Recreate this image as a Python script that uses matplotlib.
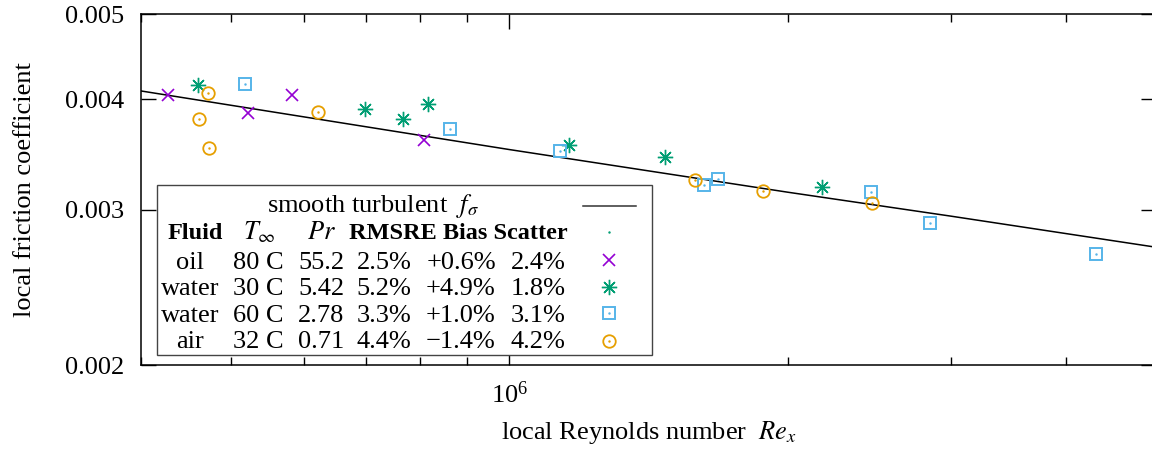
import matplotlib
matplotlib.use('Agg')

import matplotlib.pyplot as plt
from matplotlib.patches import Rectangle
from matplotlib.ticker import LogLocator, NullFormatter, NullLocator, FormatStrFormatter

plt.rcParams['font.family'] = ['Liberation Serif', 'DejaVu Serif']
plt.rcParams['mathtext.fontset'] = 'stix'
plt.rcParams['font.size'] = 19

# datos
oil_re = [4.28e5, 5.22e5, 5.82e5, 8.08e5]
oil_cf = [0.00405, 0.00386, 0.00405, 0.00360]

w30_re = [4.61e5, 6.99e5, 7.67e5, 8.16e5, 1.161e6, 1.473e6, 2.176e6]
w30_cf = [0.00415, 0.00390, 0.00380, 0.00395, 0.00355, 0.00344, 0.00318]

w60_re = [5.18e5, 8.62e5, 1.135e6, 1.623e6, 1.681e6, 2.458e6, 2.846e6, 4.309e6]
w60_cf = [0.00417, 0.00370, 0.00350, 0.00320, 0.00325, 0.00314, 0.00290, 0.00267]

air_re = [4.72e5, 4.62e5, 4.74e5, 6.21e5, 1.586e6, 1.879e6, 2.464e6]
air_cf = [0.00407, 0.00380, 0.00352, 0.00387, 0.00324, 0.00315, 0.00305]

# curva lisa turbulenta
line_re = [4e5, 1e6, 2e6, 3e6, 5e6]
line_cf = [0.00409, 0.00351, 0.00314, 0.00295, 0.00272]

# tabla de la leyenda
fluids = ['oil', 'water', 'water', 'air']
temps = ['80 C', '30 C', '60 C', '32 C']
prandtl = ['55.2', '5.42', '2.78', '0.71']
rmsre = ['2.5%', '5.2%', '3.3%', '4.4%']
bias = ['+0.6%', '+4.9%', '+1.0%', '\u22121.4%']
scatter = ['2.4%', '1.8%', '3.1%', '4.2%']

purple = '#9400d3'
green = '#009e73'
blue = '#56b4e9'
orange = '#e69f00'

fig = plt.figure(figsize=(11.52, 4.49), dpi=100)
ax = fig.add_axes([141 / 1152, 84 / 449, 1015 / 1152, 351 / 449])

ax.plot(line_re, line_cf, color='black', lw=1.1)
ax.plot(oil_re, oil_cf, 'x', color=purple, ms=9, mew=1.2, ls='none')
ax.plot(w30_re, w30_cf, marker=(8, 2, 0), color=green, ms=11, mew=1.0, ls='none')
ax.plot(w60_re, w60_cf, 's', mfc='none', mec=blue, ms=8.5, mew=1.4, ls='none')
ax.plot(w60_re, w60_cf, '.', color=blue, ms=1.5, ls='none')
ax.plot(air_re, air_cf, 'o', mfc='none', mec=orange, ms=9, mew=1.3, ls='none')
ax.plot(air_re, air_cf, '.', color=orange, ms=1.5, ls='none')

ax.set_xscale('log')
ax.set_yscale('log')
ax.set_xlim(4e5, 5e6)
ax.set_ylim(0.002, 0.005)

ax.xaxis.set_major_locator(LogLocator(base=10))
ax.xaxis.set_minor_locator(LogLocator(base=10, subs=range(2, 10)))
ax.xaxis.set_minor_formatter(NullFormatter())
ax.set_yticks([0.002, 0.003, 0.004, 0.005])
ax.yaxis.set_minor_locator(NullLocator())
ax.yaxis.set_major_formatter(FormatStrFormatter('%.3f'))

ax.tick_params(which='both', direction='in', top=True, right=True, width=1)
ax.tick_params(which='major', length=11, pad=12)
ax.tick_params(which='minor', length=5.5)
for s in ax.spines.values():
    s.set_linewidth(1.1)

ax.set_ylabel('local friction coefficient')
ax.yaxis.set_label_coords(-0.103, 0.5)
ax.set_xlabel(r'local Reynolds number  $Re_x$')
ax.xaxis.set_label_coords(0.5, -0.155)


# leyenda a mano (coordenadas en pixeles de la figura original)
def ax_x(px):
    return (px - 141) / 1015


def ax_y(py):
    return (365 - py) / 351


ax.add_patch(Rectangle((ax_x(157), ax_y(355)), (652 - 157) / 1015, (355 - 185) / 351,
                       transform=ax.transAxes, facecolor='white', edgecolor='#444444',
                       lw=1, zorder=5))
kw = dict(transform=ax.transAxes, zorder=6, ha='center', va='baseline')
ax.text(ax_x(373), ax_y(212), r'smooth turbulent  $f_\sigma$', **kw)
ax.plot([ax_x(583), ax_x(636)], [ax_y(206)] * 2, color='#333333', lw=1.1,
        transform=ax.transAxes, zorder=6)

ax.text(ax_x(195), ax_y(239), 'Fluid', fontweight='bold', fontsize=17.5, **kw)
ax.text(ax_x(259), ax_y(239), r'$T_\infty$', **kw)
ax.text(ax_x(321), ax_y(239), r'$Pr$', **kw)
ax.text(ax_x(349), ax_y(239), 'RMSRE Bias Scatter', fontweight='bold', fontsize=17.5,
        transform=ax.transAxes, zorder=6, ha='left', va='baseline')
ax.plot(ax_x(609), ax_y(232), '.', color=green, ms=1.5, transform=ax.transAxes, zorder=6)

row_base = [269, 295, 322, 348]
row_mid = [260, 287, 313, 341]
for i in range(4):
    yb = ax_y(row_base[i])
    ax.text(ax_x(190), yb, fluids[i], **kw)
    ax.text(ax_x(258), yb, temps[i], **kw)
    ax.text(ax_x(321), yb, prandtl[i], **kw)
    ax.text(ax_x(384), yb, rmsre[i], **kw)
    ax.text(ax_x(461), yb, bias[i], **kw)
    ax.text(ax_x(538), yb, scatter[i], **kw)

mx = ax_x(609)
tr = dict(transform=ax.transAxes, zorder=6, ls='none')
ax.plot(mx, ax_y(row_mid[0]), 'x', color=purple, ms=9, mew=1.2, **tr)
ax.plot(mx, ax_y(row_mid[1]), marker=(8, 2, 0), color=green, ms=11, mew=1.0, **tr)
ax.plot(mx, ax_y(row_mid[2]), 's', mfc='none', mec=blue, ms=8.5, mew=1.4, **tr)
ax.plot(mx, ax_y(row_mid[2]), '.', color=blue, ms=1.5, **tr)
ax.plot(mx, ax_y(row_mid[3]), 'o', mfc='none', mec=orange, ms=9, mew=1.3, **tr)
ax.plot(mx, ax_y(row_mid[3]), '.', color=orange, ms=1.5, **tr)

fig.savefig('out.png', dpi=100)
